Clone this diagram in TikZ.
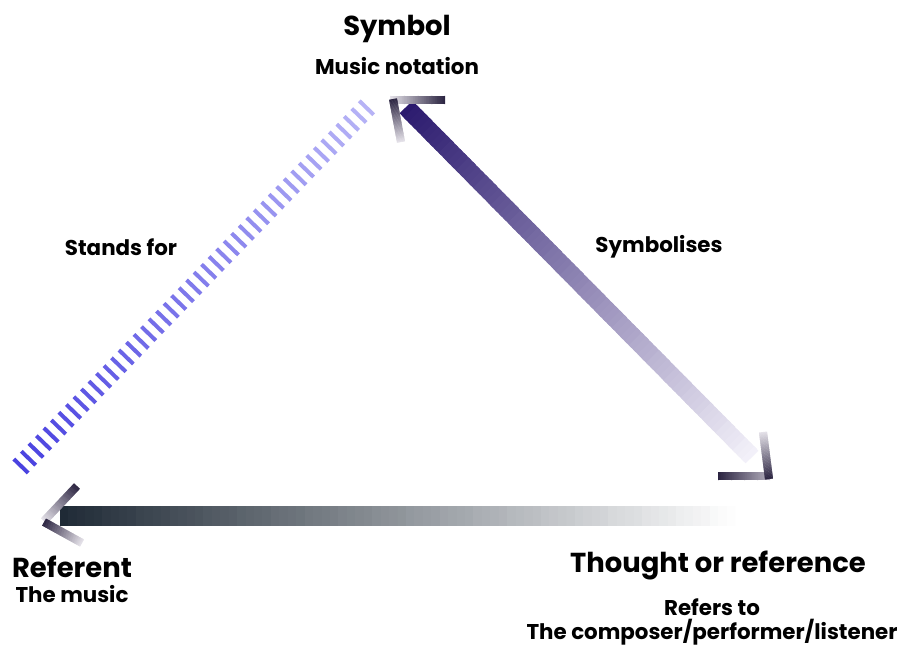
\documentclass[tikz,border=0pt]{standalone}
\usepackage{fontspec}
\setmainfont{Poppins}
\usetikzlibrary{calc}

\definecolor{standlight}{HTML}{BAB7F7}
\definecolor{standdark}{HTML}{4A42E0}
\definecolor{symdark}{HTML}{2B1A6E}
\definecolor{symlight}{HTML}{F4F2FA}
\definecolor{refdark}{HTML}{1F2A36}
\definecolor{chevdark}{HTML}{2A2340}
\definecolor{chevlight}{HTML}{E6E3EA}
\definecolor{chevmid}{HTML}{B5B0BE}

\tikzset{
  title/.style={font=\bfseries\fontsize{19.5}{23}\selectfont, anchor=base},
  sub/.style={font=\bfseries\fontsize{15.2}{18}\selectfont, anchor=base}
}

% gradient band: from, to, start colour, end colour, width
\newcommand{\gradband}[5]{%
  \foreach \i [evaluate=\i as \pct using int(100-1.25*\i)] in {0,...,79}{
    \pgfmathsetmacro{\tend}{min((\i+1.6)/80,1)}
    \draw[line width=#5, color=#3!\pct!#4] ($(#1)!\i/80!(#2)$) -- ($(#1)!\tend!(#2)$);
  }}

\begin{document}
\begin{tikzpicture}[x=0.025cm,y=-0.025cm]
\fill[white] (0,0) rectangle (898,645);
\useasboundingbox (0,0) rectangle (898,645);

% labels
\node[title] (symbol) at (397,35) {Symbol};
\node[sub] (symsub) at (397,74) {Music notation};
\node[sub] (stands) at (121,255) {Stands for};
\node[sub] (symbolises) at (659,252) {Symbolises};
\node[title] (referent) at (72,577) {Referent};
\node[sub] (refsub) at (72,602) {The music};
\node[title] (thought) at (718,572) {Thought or reference};
\node[sub] (refers) at (712,615) {Refers to};
\node[sub] (thsub) at (712,639) {The composer/performer/listener};

% edge ends
\coordinate (dashA) at (21,466);
\coordinate (dashB) at (374,100);
\coordinate (symA) at (406,107);
\coordinate (symB) at (752,457);
\coordinate (refA) at (60,516);
\coordinate (refB) at (735,516);

% stands for: striped edge
\foreach \k [evaluate=\k as \pct using int(100*\k/47)] in {0,...,47}{
  \coordinate (c) at ($(dashA)!\k/47!(dashB)$);
  \draw[line width=2.8pt, color=standlight!\pct!standdark]
    ($(c)!0.25cm!90:(dashB)$) -- ($(c)!0.25cm!-90:(dashB)$);
}

% symbolises
\gradband{symA}{symB}{symdark}{symlight}{12.8pt}
% refers to
\gradband{refA}{refB}{refdark}{white}{14.2pt}

% arrow heads
\gradband{390,100}{445,100}{chevlight}{chevdark}{5.7pt}
\gradband{393,99}{401,142}{chevdark}{chevlight}{5.7pt}
\gradband{718,476}{770,476}{chevdark}{chevmid}{5.7pt}
\gradband{763,432}{769,479}{chevlight}{chevdark}{5.7pt}
\gradband{77,486}{44,521}{chevdark}{chevlight}{5.7pt}
\gradband{44,522}{82,543}{chevdark}{chevlight}{5.7pt}
\end{tikzpicture}
\end{document}
